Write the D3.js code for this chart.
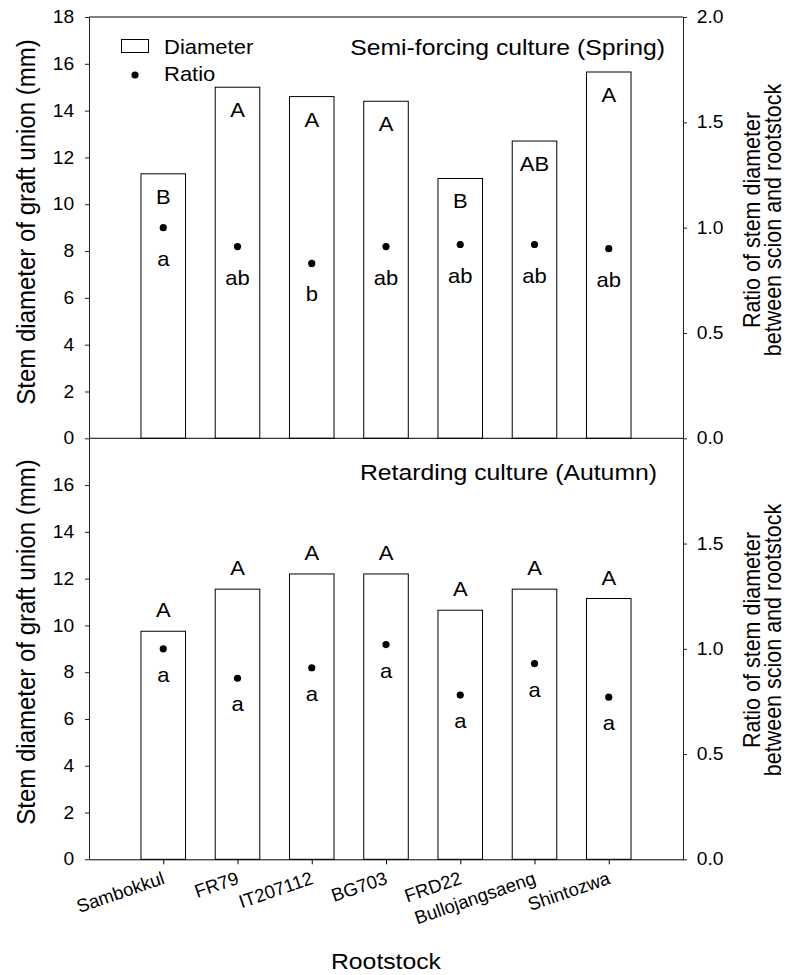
<!DOCTYPE html>
<html>
<head>
<meta charset="utf-8">
<script src="https://cdn.jsdelivr.net/npm/d3@7"></script>
<style>
body { margin: 0; background: #fff; }
svg { display: block; font-family: "Liberation Sans", Arial, sans-serif; }
</style>
</head>
<body>
<svg id="chart" width="791" height="975"></svg>
<script>
const rootstocks = ['Sambokkul', 'FR79', 'IT207112', 'BG703', 'FRD22', 'Bullojangsaeng', 'Shintozwa'];

// Semi-forcing culture (Spring)
const springDiameter = [11.3, 15.0, 14.6, 14.4, 11.1, 12.7, 15.65];
const springRatio = [1.00, 0.91, 0.83, 0.91, 0.92, 0.92, 0.90];
const springDiameterLetters = ['B', 'A', 'A', 'A', 'B', 'AB', 'A'];
const springRatioLetters = ['a', 'ab', 'b', 'ab', 'ab', 'ab', 'ab'];

// Retarding culture (Autumn)
const autumnDiameter = [9.75, 11.55, 12.2, 12.2, 10.65, 11.55, 11.15];
const autumnRatio = [1.00, 0.86, 0.91, 1.02, 0.78, 0.93, 0.77];
const autumnDiameterLetters = ['A', 'A', 'A', 'A', 'A', 'A', 'A'];
const autumnRatioLetters = ['a', 'a', 'a', 'a', 'a', 'a', 'a'];

const diameterTicksTop = [0, 2, 4, 6, 8, 10, 12, 14, 16, 18];
const diameterTicksBottom = [0, 2, 4, 6, 8, 10, 12, 14, 16];
const ratioTicksTop = [0, 0.5, 1, 1.5, 2];
const ratioTicksBottom = [0, 0.5, 1, 1.5];

const svg = d3.select('#chart');
const SX = 1.1; // the original picture is a bit wider than tall
const left = 89, right = 683;
const yTopEdge = 17, yMid = 438.3, yBottomEdge = 859.3;

const x = d3.scalePoint().domain(rootstocks).range([left, right]).padding(1);
const barW = x.step() * 0.6;

function hText(parent, px, py, str, size, anchor) {
    return parent.append('text')
        .attr('transform', `translate(${px},${py}) scale(${SX},1)`)
        .attr('text-anchor', anchor || 'start')
        .attr('font-size', size)
        .attr('fill', '#000')
        .text(str);
}

const panels = [
    {
        range: [yMid, yTopEdge], diameter: springDiameter, ratio: springRatio,
        dLetters: springDiameterLetters, rLetters: springRatioLetters,
        dTicks: diameterTicksTop, rTicks: ratioTicksTop,
        title: 'Semi-forcing culture (Spring)', titleX: 665, titleY: 55,
        letterOffset: 30, ratioLetterOffset: 38, titleCenter: 222
    },
    {
        range: [yBottomEdge, yMid], diameter: autumnDiameter, ratio: autumnRatio,
        dLetters: autumnDiameterLetters, rLetters: autumnRatioLetters,
        dTicks: diameterTicksBottom, rTicks: ratioTicksBottom,
        title: 'Retarding culture (Autumn)', titleX: 657, titleY: 480,
        letterOffset: -14, ratioLetterOffset: 33, titleCenter: 642
    }
];

panels.forEach(p => {
    const yD = d3.scaleLinear().domain([0, 18]).range(p.range);
    const yR = d3.scaleLinear().domain([0, 2]).range(p.range);
    const g = svg.append('g');

    // Bars
    g.selectAll('rect.bar')
        .data(p.diameter)
        .enter().append('rect')
        .attr('class', 'bar')
        .attr('x', (d, i) => x(rootstocks[i]) - barW / 2)
        .attr('y', d => yD(d))
        .attr('width', barW)
        .attr('height', d => yD(0) - yD(d))
        .attr('fill', '#fff')
        .attr('stroke', '#000')
        .attr('stroke-width', 1);

    // Ratio points
    g.selectAll('circle.ratio')
        .data(p.ratio)
        .enter().append('circle')
        .attr('class', 'ratio')
        .attr('cx', (d, i) => x(rootstocks[i]))
        .attr('cy', d => yR(d))
        .attr('r', 3.6)
        .attr('fill', '#000');

    // Significance letters
    p.dLetters.forEach((t, i) => {
        hText(g, x(rootstocks[i]), yD(p.diameter[i]) + p.letterOffset, t, 20, 'middle');
    });
    p.rLetters.forEach((t, i) => {
        hText(g, x(rootstocks[i]), yR(p.ratio[i]) + p.ratioLetterOffset, t, 20, 'middle');
    });

    // Left axis
    const la = g.append('g')
        .attr('transform', `translate(${left},0)`)
        .call(d3.axisLeft(yD).tickValues(p.dTicks).tickSize(4).tickSizeOuter(0).tickPadding(9.5));
    la.selectAll('text').attr('font-size', 17.5).attr('fill', '#000')
        .attr('font-family', '"Liberation Sans", Arial, sans-serif')
        .attr('transform', `scale(${SX},1)`);
    la.selectAll('line, path').attr('stroke', '#222');

    // Right axis
    const ra = g.append('g')
        .attr('transform', `translate(${right},0)`)
        .call(d3.axisRight(yR).tickValues(p.rTicks).tickSize(4).tickSizeOuter(0)
            .tickPadding(8.5).tickFormat(d3.format('.1f')));
    ra.selectAll('text').attr('font-size', 17.5).attr('fill', '#000')
        .attr('font-family', '"Liberation Sans", Arial, sans-serif')
        .attr('transform', `scale(${SX},1)`);
    ra.selectAll('line, path').attr('stroke', '#222');

    // Panel title
    hText(g, p.titleX, p.titleY, p.title, 22.5, 'end');

    // Left axis title
    g.append('text')
        .attr('transform', `translate(35,${p.titleCenter}) scale(${SX},1) rotate(-90)`)
        .attr('text-anchor', 'middle')
        .attr('font-size', 24)
        .text('Stem diameter of graft union (mm)');

    // Right axis title (two lines)
    const rt = g.append('text')
        .attr('transform', `translate(760,${p.titleCenter - 2}) scale(${SX},1) rotate(-90)`)
        .attr('text-anchor', 'middle')
        .attr('font-size', 21.5);
    rt.append('tspan').attr('x', 0).attr('y', 0).text('Ratio of stem diameter');
    rt.append('tspan').attr('x', 0).attr('y', 19).text('between scion and rootstock');
});

// Frame top line and line between panels
svg.append('line')
    .attr('x1', left).attr('x2', right).attr('y1', yTopEdge).attr('y2', yTopEdge)
    .attr('stroke', '#000');
svg.append('line')
    .attr('x1', left).attr('x2', right).attr('y1', yMid).attr('y2', yMid)
    .attr('stroke', '#000');

// Bottom x axis
const xa = svg.append('g')
    .attr('transform', `translate(0,${yBottomEdge})`)
    .call(d3.axisBottom(x).tickSize(5).tickSizeOuter(0));
xa.selectAll('line, path').attr('stroke', '#000');
xa.selectAll('text')
    .attr('font-size', 18.5)
    .attr('fill', '#000')
    .attr('font-family', '"Liberation Sans", Arial, sans-serif')
    .attr('text-anchor', 'end')
    .attr('x', 2).attr('y', 24).attr('dy', 0)
    .attr('transform', 'rotate(-19,2,24)');

hText(svg, (left + right) / 2, 969, 'Rootstock', 22.5, 'middle');

// Legend
const lg = svg.append('g');
lg.append('rect')
    .attr('x', 121.5).attr('y', 39.5).attr('width', 27).attr('height', 13)
    .attr('fill', '#fff').attr('stroke', '#000');
hText(lg, 164, 54, 'Diameter', 20);
lg.append('circle').attr('cx', 135).attr('cy', 75).attr('r', 3.6).attr('fill', '#000');
hText(lg, 164, 81, 'Ratio', 20);
</script>
</body>
</html>
